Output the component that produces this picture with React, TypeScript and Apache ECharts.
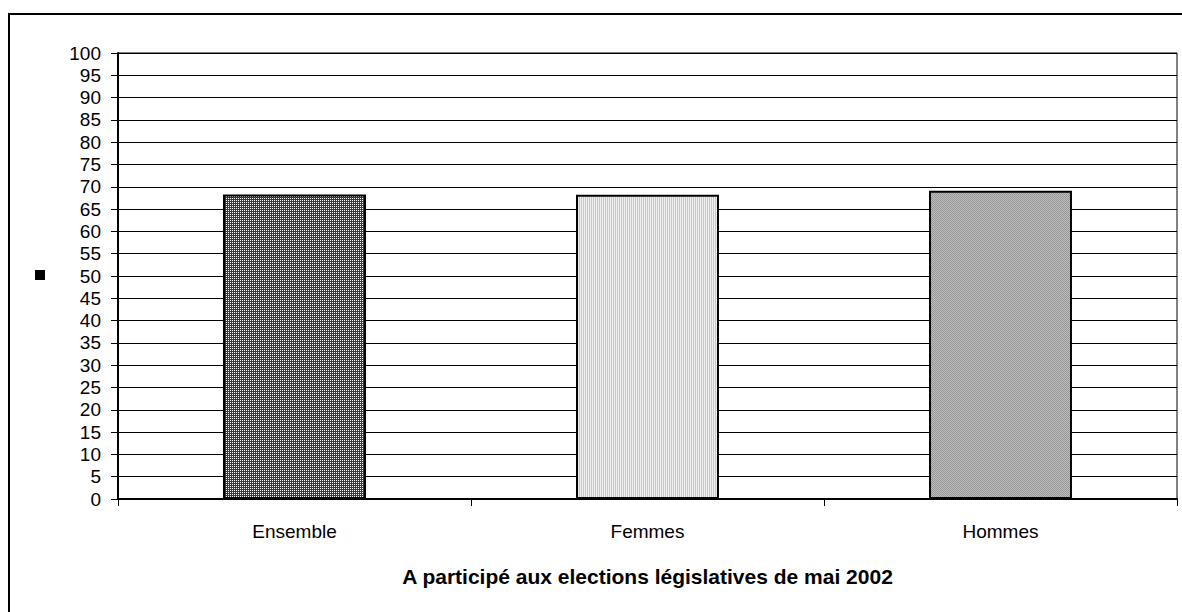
import React, { useEffect, useRef } from "react";
import * as echarts from "echarts";

const categories = ["Ensemble", "Femmes", "Hommes"];
const values = [68.3, 68.2, 69.1];
const axisTitle = "A participé aux elections législatives de mai 2002";
const yMin = 0;
const yMax = 100;
const yInterval = 5;

function makePattern(w: number, h: number, px: string[]): string {
  const c = document.createElement("canvas");
  c.width = w;
  c.height = h;
  const ctx = c.getContext("2d")!;
  for (let y = 0; y < h; y++) {
    for (let x = 0; x < w; x++) {
      ctx.fillStyle = px[y * w + x];
      ctx.fillRect(x, y, 1, 1);
    }
  }
  return c.toDataURL();
}

export default function App() {
  const ref = useRef<HTMLDivElement>(null);
  useEffect(() => {
    if (!ref.current) return;
    const chart = echarts.init(ref.current, undefined, { renderer: "svg" });
    const patEns = makePattern(2, 2, ["#ffffff", "#3a3a3a", "#3a3a3a", "#3a3a3a"]);
    const patFem = makePattern(2, 1, ["#f0f0f0", "#c8c8c8"]);
    const patHom = makePattern(2, 2, ["#999999", "#bbbbbb", "#bbbbbb", "#999999"]);
    const pats = [patEns, patFem, patHom];
    const fallback = ["#6b6b6b", "#dcdcdc", "#aaaaaa"];
    const font = "'Liberation Sans', Arial, sans-serif";
    chart.setOption({
      animation: false,
      backgroundColor: "#ffffff",
      textStyle: { fontFamily: font },
      graphic: [
        {
          type: "rect",
          shape: { x: 9, y: 14, width: 1400, height: 800 },
          style: { fill: "none", stroke: "#000", lineWidth: 2 },
          silent: true,
        },
      ],
      legend: {
        data: [" "],
        left: 30,
        top: 265,
        itemWidth: 10,
        itemHeight: 10,
        icon: "rect",
        itemStyle: { color: "#000" },
        textStyle: { fontSize: 1 },
      },
      grid: {
        left: 118,
        top: 53,
        right: 5,
        bottom: 113,
        containLabel: false,
        show: true,
        borderColor: "#000",
        borderWidth: 1,
        backgroundColor: "transparent",
      },
      xAxis: {
        type: "category",
        data: categories,
        boundaryGap: true,
        axisLine: { show: true, lineStyle: { color: "#000", width: 2 } },
        axisTick: { show: true, length: 7, alignWithLabel: false, lineStyle: { color: "#000" } },
        axisLabel: { color: "#000", fontSize: 19, margin: 23, fontFamily: font },
        name: axisTitle,
        nameLocation: "middle",
        nameGap: 67,
        nameTextStyle: { color: "#000", fontSize: 21, fontWeight: "bold", fontFamily: font },
      },
      yAxis: {
        type: "value",
        min: yMin,
        max: yMax,
        interval: yInterval,
        axisLine: { show: true, lineStyle: { color: "#000", width: 2 } },
        axisTick: { show: true, length: 7, lineStyle: { color: "#000" } },
        axisLabel: { color: "#000", fontSize: 19, margin: 17, fontFamily: font },
        splitLine: { show: true, lineStyle: { color: "#000", width: 1 } },
      },
      series: [
        {
          name: " ",
          type: "bar",
          barWidth: "40.5%",
          data: values.map((v, i) => ({
            value: v,
            itemStyle: {
              color: pats[i]
                ? { image: pats[i], repeat: "repeat" }
                : fallback[i],
              borderColor: "#000",
              borderWidth: 2,
            },
          })),
        },
      ],
    });
    return () => chart.dispose();
  }, []);
  return (
    <div
      ref={ref}
      style={{ position: "fixed", left: 0, top: 0, width: 1182, height: 612 }}
    />
  );
}
